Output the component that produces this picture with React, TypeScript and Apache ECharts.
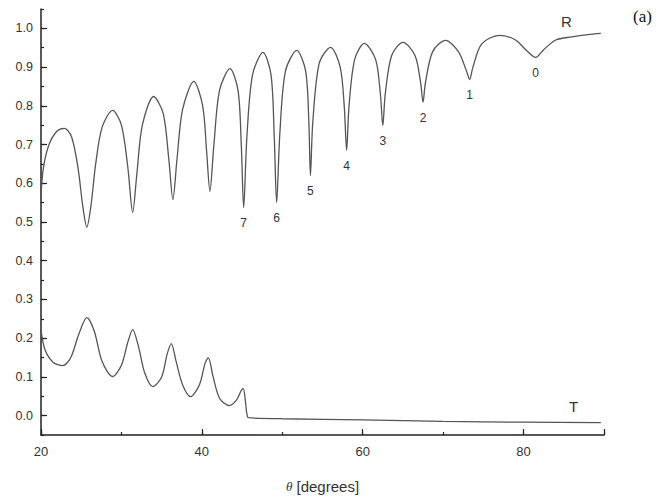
import React, { useEffect, useRef } from 'react';
import * as echarts from 'echarts';

// Reflectance R (theta in degrees, value)
const rTheta = [20, 20.3, 21, 22, 22.9, 23.8, 24.6, 25.2, 25.7, 26.2, 26.8, 27.6, 28.9, 30.0, 30.8, 31.4, 31.9, 32.6, 34.0, 35.2, 35.9, 36.4, 36.9, 37.6, 39.0, 40.1, 40.6, 41.0, 41.5, 42.2, 43.5, 44.5, 44.9, 45.2, 45.6, 46.3, 47.6, 48.6, 49.0, 49.3, 49.7, 50.4, 51.8, 52.9, 53.3, 53.5, 53.8, 54.6, 56.0, 57.2, 57.7, 58.0, 58.3, 59.0, 60.2, 61.6, 62.2, 62.5, 62.8, 63.6, 65.0, 66.5, 67.2, 67.5, 67.8, 68.7, 70.3, 71.9, 72.9, 73.3, 73.7, 74.8, 77.0, 79.0, 80.5, 81.5, 82.5, 84.0, 86.0, 88.0, 89.6];
const rValue = [0.57, 0.64, 0.70, 0.735, 0.742, 0.72, 0.64, 0.54, 0.487, 0.54, 0.65, 0.745, 0.788, 0.75, 0.64, 0.525, 0.62, 0.75, 0.824, 0.78, 0.66, 0.558, 0.66, 0.79, 0.863, 0.80, 0.68, 0.579, 0.70, 0.84, 0.896, 0.84, 0.70, 0.537, 0.72, 0.88, 0.938, 0.88, 0.72, 0.55, 0.73, 0.89, 0.943, 0.89, 0.76, 0.62, 0.76, 0.91, 0.951, 0.90, 0.80, 0.685, 0.80, 0.92, 0.961, 0.92, 0.83, 0.749, 0.83, 0.93, 0.964, 0.93, 0.86, 0.809, 0.86, 0.94, 0.969, 0.94, 0.89, 0.868, 0.90, 0.96, 0.982, 0.97, 0.94, 0.925, 0.945, 0.97, 0.978, 0.984, 0.987];

// Transmittance T
const tTheta = [20, 20.5, 21.5, 22.7, 23.7, 24.7, 25.7, 26.6, 27.6, 28.9, 30.0, 30.8, 31.4, 32.1, 32.9, 33.9, 35.0, 35.7, 36.2, 36.8, 37.6, 38.6, 39.7, 40.4, 40.8, 41.4, 42.2, 43.4, 44.3, 44.9, 45.15, 45.4, 45.7, 46.2, 50, 60, 70, 80, 89.6];
const tValue = [0.22, 0.17, 0.138, 0.129, 0.15, 0.21, 0.253, 0.22, 0.14, 0.101, 0.13, 0.19, 0.222, 0.18, 0.11, 0.075, 0.10, 0.16, 0.186, 0.14, 0.08, 0.049, 0.08, 0.135, 0.15, 0.10, 0.045, 0.026, 0.04, 0.065, 0.07, 0.04, -0.004, -0.006, -0.008, -0.011, -0.015, -0.017, -0.018];

// Labelled reflectance minima
const dipTheta = [45.2, 49.3, 53.5, 58.0, 62.5, 67.5, 73.3, 81.5];
const dipValue = [0.537, 0.55, 0.62, 0.685, 0.749, 0.809, 0.868, 0.925];
const dipLabels = ['7', '6', '5', '4', '3', '2', '1', '0'];

// Tick labels
const xTickLabels = [20, 40, 60, 80];
const yTickLabels = [0, 0.1, 0.2, 0.3, 0.4, 0.5, 0.6, 0.7, 0.8, 0.9, 1.0];

export default function App() {
  const ref = useRef<HTMLDivElement>(null);
  useEffect(() => {
    document.body.style.margin = '0';
    const chart = echarts.init(ref.current!, null, { renderer: 'svg' });
    const axisColor = '#222';
    const textColor = '#333';
    const font = 'Liberation Sans';
    const isMajorY = (v: number) => v > -1e-9 && Math.abs(Math.round(v * 10) - v * 10) < 1e-6;
    chart.setOption({
      animation: false,
      backgroundColor: '#fff',
      grid: { left: 41, right: 56, top: 9, bottom: 65 },
      xAxis: [
        {
          type: 'value', min: 20, max: 90, interval: 10, position: 'bottom',
          axisLine: { show: true, onZero: false, lineStyle: { color: axisColor, width: 1.5 } },
          axisTick: { show: true, inside: true, length: 3, lineStyle: { color: axisColor, width: 1.2 } },
          axisLabel: {
            formatter: (v: number) => (xTickLabels.indexOf(Math.round(v)) >= 0 ? String(Math.round(v)) : ''),
            margin: 10, fontSize: 13, color: textColor, fontFamily: font,
          },
          splitLine: { show: false },
          name: '{i|θ}{n| [degrees]}',
          nameLocation: 'middle',
          nameGap: 44,
          nameTextStyle: {
            rich: {
              i: { fontStyle: 'italic', fontFamily: 'Liberation Serif', fontSize: 13, color: textColor },
              n: { fontSize: 15, fontFamily: font, color: textColor },
            },
          },
        },
        {
          type: 'value', min: 20, max: 90, interval: 20, position: 'bottom', offset: 0,
          axisLine: { show: false, onZero: false },
          axisTick: { show: true, inside: true, length: 6, lineStyle: { color: axisColor, width: 1.2 } },
          axisLabel: { show: false },
          splitLine: { show: false },
        },
      ],
      yAxis: [
        {
          type: 'value', min: -0.05, max: 1.05, interval: 0.05, position: 'left',
          axisLine: { show: true, onZero: false, lineStyle: { color: axisColor, width: 1.5 } },
          axisTick: { show: true, inside: true, length: 3, lineStyle: { color: axisColor, width: 1.2 } },
          axisLabel: {
            formatter: (v: number) => (isMajorY(v) ? v.toFixed(1) : ''),
            margin: 8, fontSize: 12.5, color: textColor, fontFamily: font,
          },
          splitLine: { show: false },
        },
        {
          type: 'value', min: -0.05, max: 1.05, position: 'left', offset: 0,
          axisLine: { show: false, onZero: false },
          axisTick: { show: true, inside: true, length: 6, customValues: yTickLabels, lineStyle: { color: axisColor, width: 1.2 } },
          axisLabel: { show: false, customValues: yTickLabels },
          splitLine: { show: false },
        },
      ],
      series: [
        {
          name: 'R', type: 'line', xAxisIndex: 0, yAxisIndex: 0,
          data: rTheta.map((x, i) => [x, rValue[i]]),
          showSymbol: false, smooth: 0.3,
          lineStyle: { color: '#555', width: 1.3 },
        },
        {
          name: 'T', type: 'line', xAxisIndex: 0, yAxisIndex: 0,
          data: tTheta.map((x, i) => [x, tValue[i]]),
          showSymbol: false, smooth: 0.3,
          lineStyle: { color: '#555', width: 1.3 },
        },
        {
          name: 'orders', type: 'scatter', xAxisIndex: 0, yAxisIndex: 0,
          data: dipTheta.map((x, i) => [x, dipValue[i]]),
          symbolSize: 1,
          itemStyle: { color: '#333', opacity: 0 },
          label: {
            show: true, position: 'bottom', distance: 9,
            formatter: (p: any) => dipLabels[p.dataIndex],
            fontSize: 12, color: '#333', fontFamily: font, textBorderWidth: 0, opacity: 1,
          },
          silent: true,
        },
      ],
      graphic: [
        { type: 'text', left: 561, top: 14, style: { text: 'R', fontSize: 15, fontFamily: font, fill: textColor } },
        { type: 'text', left: 569, top: 399, style: { text: 'T', fontSize: 15, fontFamily: font, fill: textColor } },
        { type: 'text', left: 633, top: 8, style: { text: '(a)', fontSize: 17, fontFamily: 'Liberation Serif', fill: '#111' } },
      ],
    });
    return () => chart.dispose();
  }, []);
  return <div ref={ref} style={{ width: 660, height: 500 }} />;
}
